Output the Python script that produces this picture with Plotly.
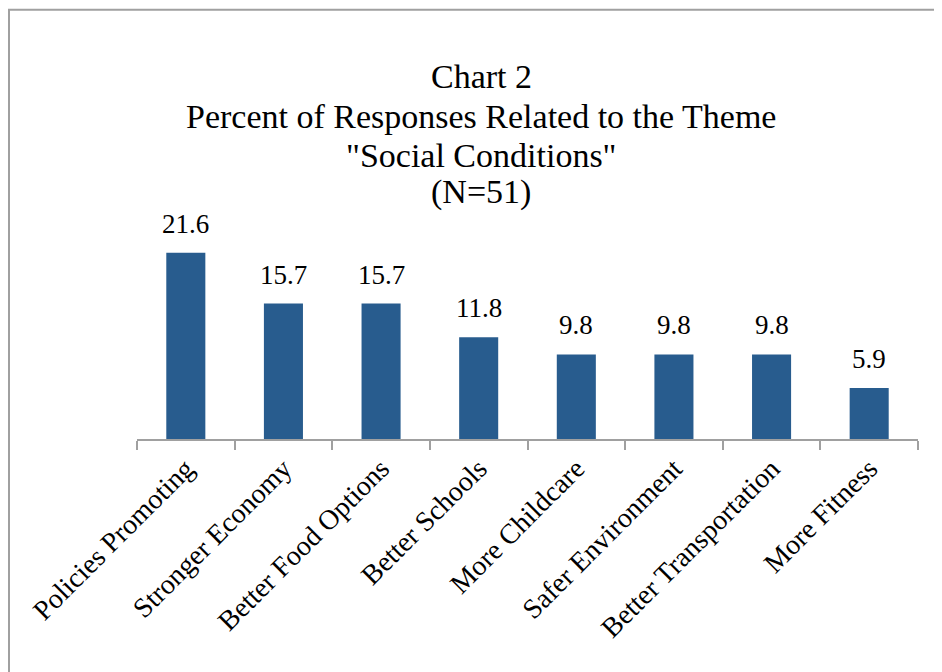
import plotly.graph_objects as go

categories = ["Policies Promoting", "Stronger Economy", "Better Food Options", "Better Schools",
              "More Childcare", "Safer Environment", "Better Transportation", "More Fitness"]
values = [21.6, 15.7, 15.7, 11.8, 9.8, 9.8, 9.8, 5.9]
title_lines = ["Chart 2", "Percent of Responses Related to the Theme", "\"Social Conditions\"", "(N=51)"]

OFF = 8  # page body margin
W, H = 942 - OFF, 672 - OFF
L, R = 137 - OFF, 918 - OFF
B = 439 - OFF
YMAX = 24
PX_PER = 8.64
T = B - YMAX * PX_PER
FONT = "Liberation Serif"

def px_to_paper_x(px):
    return (px - OFF - L) / (R - L)

def px_to_paper_y(py):
    return (B - (py - OFF)) / (B - T)

fig = go.Figure()
fig.add_trace(go.Bar(
    x=categories, y=values,
    marker=dict(color="#285C8E", line=dict(width=0)),
    width=0.4,
    hoverinfo="x+y",
))

annotations = []
for c, v in zip(categories, values):
    annotations.append(dict(x=c, y=v, xref="x", yref="y", text=f"{v:.1f}",
                            showarrow=False, yanchor="bottom", yshift=12,
                            font=dict(family=FONT, size=27, color="#000000")))

title_y = [76, 116, 155, 192]
for t, yy in zip(title_lines, title_y):
    annotations.append(dict(x=px_to_paper_x(481), y=px_to_paper_y(yy), xref="paper", yref="paper",
                            text=t, showarrow=False, xanchor="center", yanchor="middle",
                            font=dict(family=FONT, size=34, color="#000000")))

fig.update_layout(
    width=W, height=H,
    margin=dict(l=L, r=W - R, t=T, b=H - B, pad=0),
    paper_bgcolor="white", plot_bgcolor="white",
    showlegend=False,
    annotations=annotations,
    shapes=[dict(type="rect", xref="paper", yref="paper",
                 x0=px_to_paper_x(9), x1=px_to_paper_x(960),
                 y0=px_to_paper_y(700), y1=px_to_paper_y(9),
                 line=dict(color="#a0a0a0", width=2), fillcolor="rgba(0,0,0,0)", layer="below")],
    font=dict(family=FONT, color="#000000"),
)
fig.update_xaxes(
    type="category", range=[-0.5, 7.5],
    showline=True, linecolor="#a0a0a0", linewidth=2,
    ticks="outside", tickson="boundaries", ticklen=9, tickcolor="#a0a0a0", tickwidth=2,
    tickangle=-45, tickfont=dict(family=FONT, size=28, color="#000000"),
    showgrid=False, zeroline=False,
)
fig.update_yaxes(range=[0, YMAX], visible=False, showgrid=False, zeroline=False)

fig.write_html("out.html")
